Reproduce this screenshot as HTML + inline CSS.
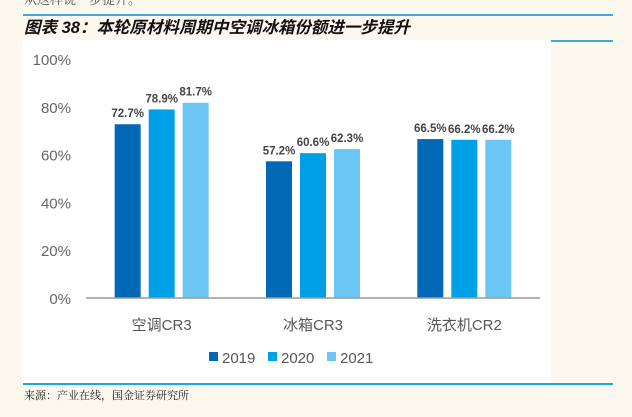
<!DOCTYPE html>
<html><head><meta charset="utf-8"><style>
body{margin:0;background:#fdf8ee;width:632px;height:412px;overflow:hidden;font-family:"Liberation Sans","Noto Sans CJK SC",sans-serif;}
</style></head><body>
<svg width="632" height="412" xmlns="http://www.w3.org/2000/svg">
<text x="24" y="4" font-size="13" fill="#555" font-family="Noto Serif CJK SC, serif">从这样说一步提升。</text>
<rect x="23" y="14" width="590" height="2" fill="#3fa9e0"/>
<text x="24" y="33" font-size="16.5" font-weight="bold" font-style="italic" fill="#111" font-family="Liberation Sans, Noto Sans CJK SC, sans-serif">图表 38：本轮原材料周期中空调冰箱份额进一步提升</text>
<rect x="22" y="40" width="529" height="343" fill="#fff"/>
<rect x="551" y="40" width="62" height="2" fill="#3fa9e0"/>
<rect x="23" y="383" width="590" height="2" fill="#1aa5e6"/>
<text x="24" y="399" font-size="11" fill="#222" font-family="Noto Serif CJK SC, serif">来源：产业在线，国金证券研究所</text>
<g id="chart"></g>
</svg>
<script>
const categories=["空调CR3","冰箱CR3","洗衣机CR2"];
const years=["2019","2020","2021"];
const v2019=[72.7,57.2,66.5];
const v2020=[78.9,60.6,66.2];
const v2021=[81.7,62.3,66.2];
const yTicks=[0,20,40,60,80,100];
const colors=["#0068b5","#00a0e6","#6cc6f3"];
const NS="http://www.w3.org/2000/svg";
const g=document.getElementById('chart');
const x0=86,x1=540,y0=298,y1=59;
const y=v=>y0-(v/100)*(y0-y1);
const band=(x1-x0)/categories.length;
const cx=i=>x0+band*(i+0.5);
function mk(t,a){const e=document.createElementNS(NS,t);for(const k in a)e.setAttribute(k,a[k]);g.appendChild(e);return e;}
yTicks.forEach(t=>{const e=mk('text',{x:71,y:y(t)+6,'text-anchor':'end','font-size':15,fill:'#666'});e.textContent=t+'%';

});
const series=[v2019,v2020,v2021];
const bw=26,pitch=34;
series.forEach((s,si)=>{s.forEach((v,i)=>{const bx=cx(i)+(si-1)*pitch-bw/2;
const r=mk('rect',{x:bx,y:y(v),width:bw,height:y0-y(v),fill:colors[si]});


const t=mk('text',{x:bx+bw/2,y:y(v)-7,'text-anchor':'middle','font-size':11.5,'font-weight':'bold',fill:'#444'});t.textContent=v.toFixed(1)+'%';

});});
const ax=mk('line',{x1:x0,y1:y0,x2:x1,y2:y0,stroke:'#999','stroke-width':1.5});


categories.forEach((c,i)=>{const t=mk('text',{x:cx(i),y:330,'text-anchor':'middle','font-size':15,fill:'#555'});t.textContent=c;

});
const lx=[209,268,327];
years.forEach((yr,i)=>{const r=mk('rect',{x:lx[i],y:352,width:9,height:9,fill:colors[i]});


const t=mk('text',{x:lx[i]+13,y:363,'font-size':15,fill:'#555'});t.textContent=yr;

});
</script>
</body></html>
